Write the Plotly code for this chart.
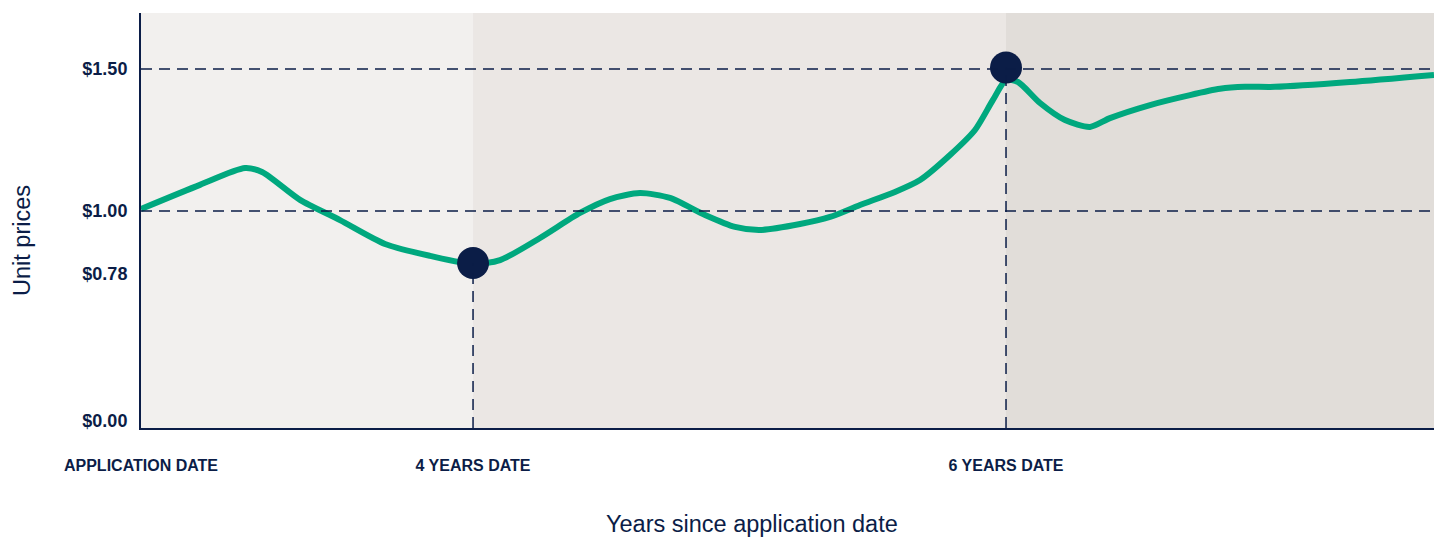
import plotly.graph_objects as go

# ---- data (timeline position 0-100, unit price in $) ----
line_x = [0, 4.56, 8.04, 9.36, 12.30, 15.39, 18.87, 22.35, 25.68, 27.77, 30.86, 33.95,
          36.27, 38.59, 40.91, 43.62, 45.94, 47.87, 50.97, 53.29, 55.61, 58.31, 60.25,
          62.57, 64.50, 65.89, 66.90, 67.83, 69.53, 71.46, 73.40, 74.94, 78.04, 81.13,
          83.45, 85.38, 87.70, 93.50, 100]
line_y = [1.007, 1.092, 1.151, 1.137, 1.039, 0.968, 0.884, 0.842, 0.813, 0.827, 0.905, 0.993,
          1.042, 1.063, 1.046, 0.986, 0.944, 0.933, 0.954, 0.979, 1.021, 1.067, 1.109,
          1.197, 1.285, 1.391, 1.461, 1.454, 1.380, 1.320, 1.296, 1.327, 1.373, 1.408,
          1.430, 1.437, 1.437, 1.454, 1.479]

marker_x = [25.68, 66.90]
marker_y = [0.817, 1.505]

tick_pos = [0, 25.68, 66.90]
tick_labels = ["APPLICATION DATE", "4 YEARS DATE", "6 YEARS DATE"]

y_floor = 0.236          # broken axis floor representing $0.00
y_top = 1.697
y_tick_vals = [0.262, 0.78, 1.0, 1.5]
y_tick_text = ["$0.00", "$0.78", "$1.00", "$1.50"]
ref_levels = [1.0, 1.5]

band_edges = [0, 25.68, 66.90, 100]
band_colors = ["#f2f0ee", "#ebe7e4", "#e1ddd9"]

NAVY = "#0b1d47"
GREEN = "#00a87e"
TICKFONT = "Liberation Sans Narrow, Arial Narrow, Liberation Sans, sans-serif"
TITLEFONT = "Liberation Sans, Arial, sans-serif"

fig = go.Figure()

shapes = []
for i, c in enumerate(band_colors):
    shapes.append(dict(type="rect", xref="x", yref="y", x0=band_edges[i], x1=band_edges[i + 1],
                       y0=y_floor, y1=y_top, fillcolor=c, line_width=0, layer="below"))
for lv in ref_levels:
    shapes.append(dict(type="line", xref="x", yref="y", x0=0, x1=100, y0=lv, y1=lv,
                       line=dict(color=NAVY, width=1.5, dash="11px,7px"), layer="above"))
for mx, my in zip(marker_x, marker_y):
    shapes.append(dict(type="line", xref="x", yref="y", x0=mx, x1=mx, y0=y_floor, y1=my,
                       line=dict(color=NAVY, width=1.5, dash="11px,7px"), layer="above"))

fig.add_trace(go.Scatter(x=line_x, y=line_y, mode="lines",
                         line=dict(color=GREEN, width=6, shape="spline", smoothing=0.7),
                         hoverinfo="skip", showlegend=False))
fig.add_trace(go.Scatter(x=marker_x, y=marker_y, mode="markers",
                         marker=dict(color=NAVY, size=32, line_width=0),
                         hoverinfo="skip", showlegend=False))

fig.update_layout(
    width=1434, height=537,
    margin=dict(l=141, r=0, t=13, b=109),
    paper_bgcolor="white", plot_bgcolor="white",
    shapes=shapes,
    showlegend=False,
    xaxis=dict(range=[0, 100], showgrid=False, zeroline=False,
               tickvals=tick_pos, ticktext=["<b>%s</b>" % t for t in tick_labels], ticks="",
               ticklabelstandoff=22,
               tickfont=dict(family=TICKFONT, size=16, color=NAVY),
               showline=True, linecolor=NAVY, linewidth=2, fixedrange=True),
    yaxis=dict(range=[y_floor, y_top], showgrid=False, zeroline=False,
               tickvals=y_tick_vals, ticktext=["<b>%s</b>" % t for t in y_tick_text], ticks="",
               ticklabelstandoff=8,
               tickfont=dict(family=TICKFONT, size=18, color=NAVY),
               showline=True, linecolor=NAVY, linewidth=2, fixedrange=True),
    annotations=[
        dict(text="Unit prices", xref="paper", yref="paper", x=0, y=0.4506,
             xanchor="center", yanchor="middle", xshift=-119, textangle=-90, showarrow=False,
             font=dict(family=TITLEFONT, size=23.5, color=NAVY)),
        dict(text="Years since application date", xref="paper", yref="paper", x=0.4726, y=0,
             xanchor="center", yanchor="middle", yshift=-96, showarrow=False,
             font=dict(family=TITLEFONT, size=23.5, color=NAVY)),
    ],
)

fig.write_html(
    "out.html",
    config={"displayModeBar": False, "staticPlot": True},
    post_script="document.body.style.margin='0';document.body.style.overflow='hidden';",
)
